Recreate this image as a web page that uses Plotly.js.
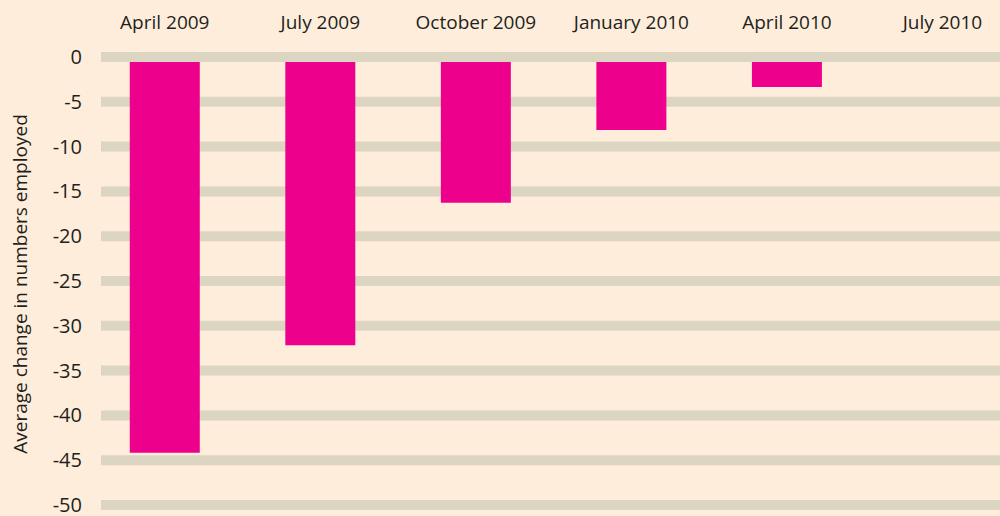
<!DOCTYPE html>
<html>
<head>
<meta charset="utf-8">
<script src="https://cdn.plot.ly/plotly-3.0.1.min.js"></script>
<style>html,body{margin:0;padding:0;background:#FEEDDA;}#chart{width:1000px;height:516px;}</style>
</head>
<body>
<div id="chart"></div>
<script>
var categories = ["April 2009", "July 2009", "October 2009", "January 2010", "April 2010", "July 2010"];
var changeValues = [-43.6, -31.6, -15.7, -7.6, -2.8, 0];
var yTickValues = [0, -5, -10, -15, -20, -25, -30, -35, -40, -45, -50];
var yTickLabels = ["0", "-5", "-10", "-15", "-20", "-25", "-30", "-35", "-40", "-45", "-50"];
var yTitle = "Average change in numbers employed";

var bg = "#FEEDDA";
var gridColor = "#DCD5C2";
var barColor = "#EC008C";
var textColor = "#231F20";
var fontFamily = "Open Sans, sans-serif";

var shapes = yTickValues.map(function (v) {
  return {
    type: "rect", layer: "below",
    xref: "paper", x0: 0, x1: 1,
    yref: "y", ysizemode: "pixel", yanchor: v, y0: 0, y1: 10,
    fillcolor: gridColor, line: {width: 0}
  };
});

var trace = {
  type: "bar",
  x: categories,
  y: changeValues,
  marker: {color: barColor, line: {width: 0}},
  width: 0.45,
  hoverinfo: "x+y"
};

var layout = {
  width: 1000, height: 516,
  paper_bgcolor: bg, plot_bgcolor: bg,
  margin: {l: 101, r: 0, t: 52, b: 0},
  showlegend: false,
  font: {family: fontFamily, color: textColor, size: 19},
  xaxis: {
    side: "top",
    type: "category",
    range: [-0.41, 5.37],
    showgrid: false, zeroline: false, showline: false,
    ticks: "outside", ticklen: 14, tickcolor: "rgba(0,0,0,0)",
    ticklabeloverflow: "allow",
    tickfont: {family: fontFamily, size: 19, color: textColor}
  },
  yaxis: {
    range: [-50.67, 1.116],
    tickvals: yTickValues, ticktext: yTickLabels,
    showgrid: false, zeroline: false, showline: false,
    ticks: "outside", ticklen: 14, tickcolor: "rgba(0,0,0,0)",
    ticklabelshift: -5,
    ticklabeloverflow: "allow",
    tickfont: {family: fontFamily, size: 20, color: textColor},
    title: {text: yTitle, font: {family: fontFamily, size: 19, color: textColor}, standoff: 20}
  },
  shapes: shapes
};

Plotly.newPlot("chart", [trace], layout, {displayModeBar: false, staticPlot: true});
</script>
</body>
</html>
